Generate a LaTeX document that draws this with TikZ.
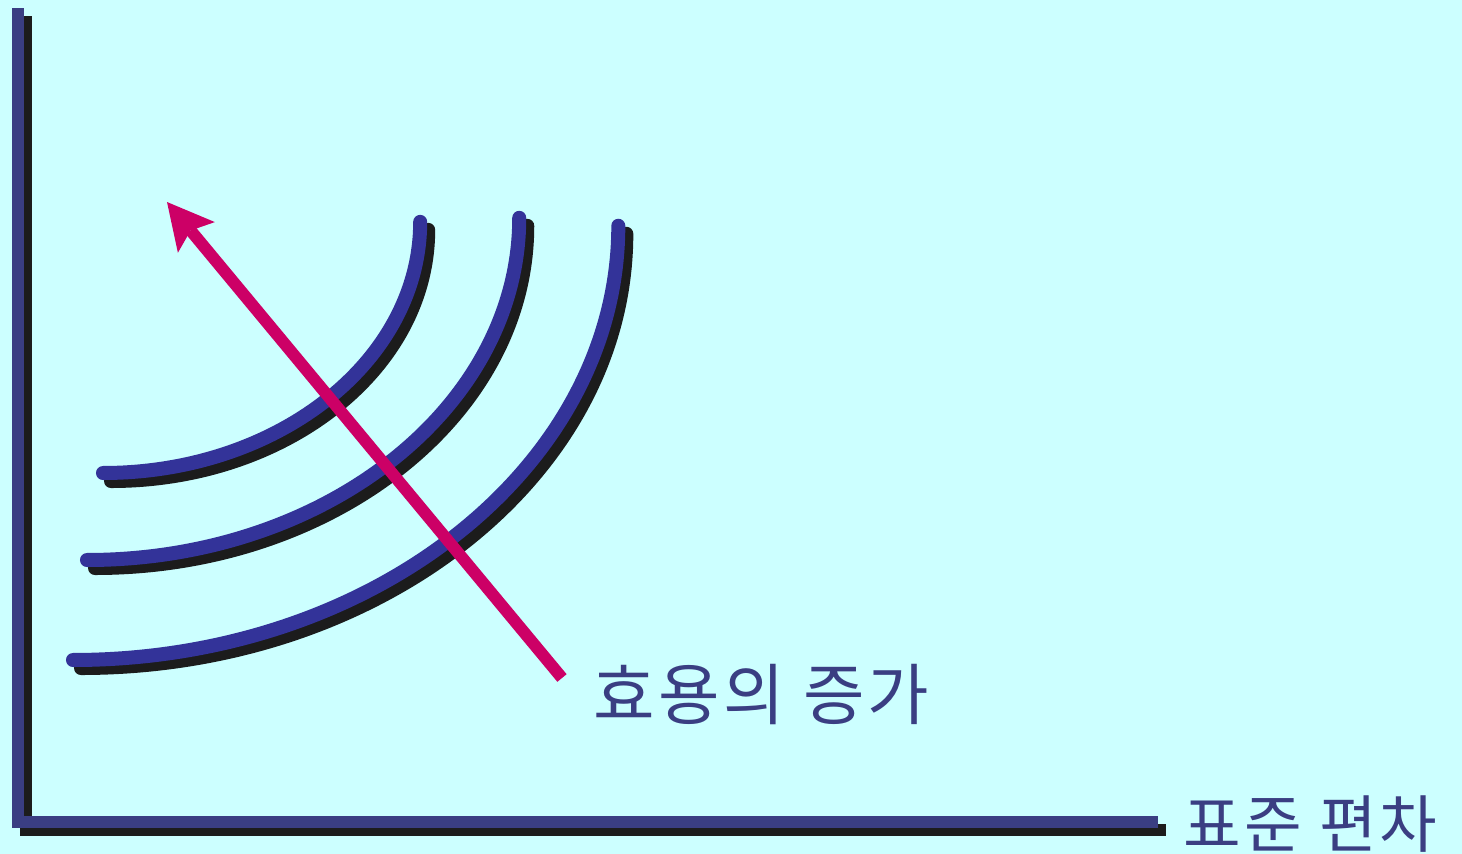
\documentclass[tikz,border=0pt]{standalone}
\usepackage{fontspec}
\newfontfamily\kofont[LetterSpace=5]{Noto Sans CJK KR}
\usetikzlibrary{arrows.meta}
\definecolor{paper}{RGB}{204,255,255}
\definecolor{axisblue}{RGB}{58,62,130}
\definecolor{curveblue}{RGB}{51,51,153}
\definecolor{shade}{RGB}{28,28,28}
\definecolor{hotpink}{RGB}{204,0,102}

\begin{document}
\begin{tikzpicture}[
    x=0.01cm, y=-0.01cm,
    axis/.style={line width=0.12cm, draw=axisblue, line join=miter},
    curve/.style={line width=0.14cm, draw=curveblue, line cap=round},
    dropshade/.style={draw=shade, xshift=0.08cm, yshift=-0.08cm},
    arrow/.style={-{Stealth[length=0.46cm, width=0.48cm, inset=0.09cm, line width=0pt]}, line width=0.12cm, draw=hotpink},
    tag/.style={font=\kofont\fontsize{19pt}{21pt}\selectfont, text=axisblue, anchor=west, inner sep=0pt}
]
\fill[paper] (0,0) rectangle (1462,854);

% axes
\draw[axis, dropshade] (18,8) -- (18,822) -- (1158,822);
\draw[axis] (18,8) -- (18,822) -- (1158,822);

% indifference curves
\foreach \sx/\sy/\rx/\ry in {103/473/3.17/2.51, 87/560/4.32/3.42, 73/660/5.45/4.34} {
    \draw[curve, dropshade] (\sx,\sy) arc[start angle=270, end angle=360, x radius=\rx cm, y radius=\ry cm];
    \draw[curve] (\sx,\sy) arc[start angle=270, end angle=360, x radius=\rx cm, y radius=\ry cm];
}

% direction of higher utility
\coordinate (tail) at (562,678);
\coordinate (head) at (167,202);
\draw[arrow] (tail) -- (head);

\node[tag] (utility) at (593,695) {효용의 증가};
\node[tag, font=\kofont\fontsize{17.8pt}{19pt}\selectfont] (stdev) at (1183,824) {표준 편차};
\end{tikzpicture}
\end{document}
